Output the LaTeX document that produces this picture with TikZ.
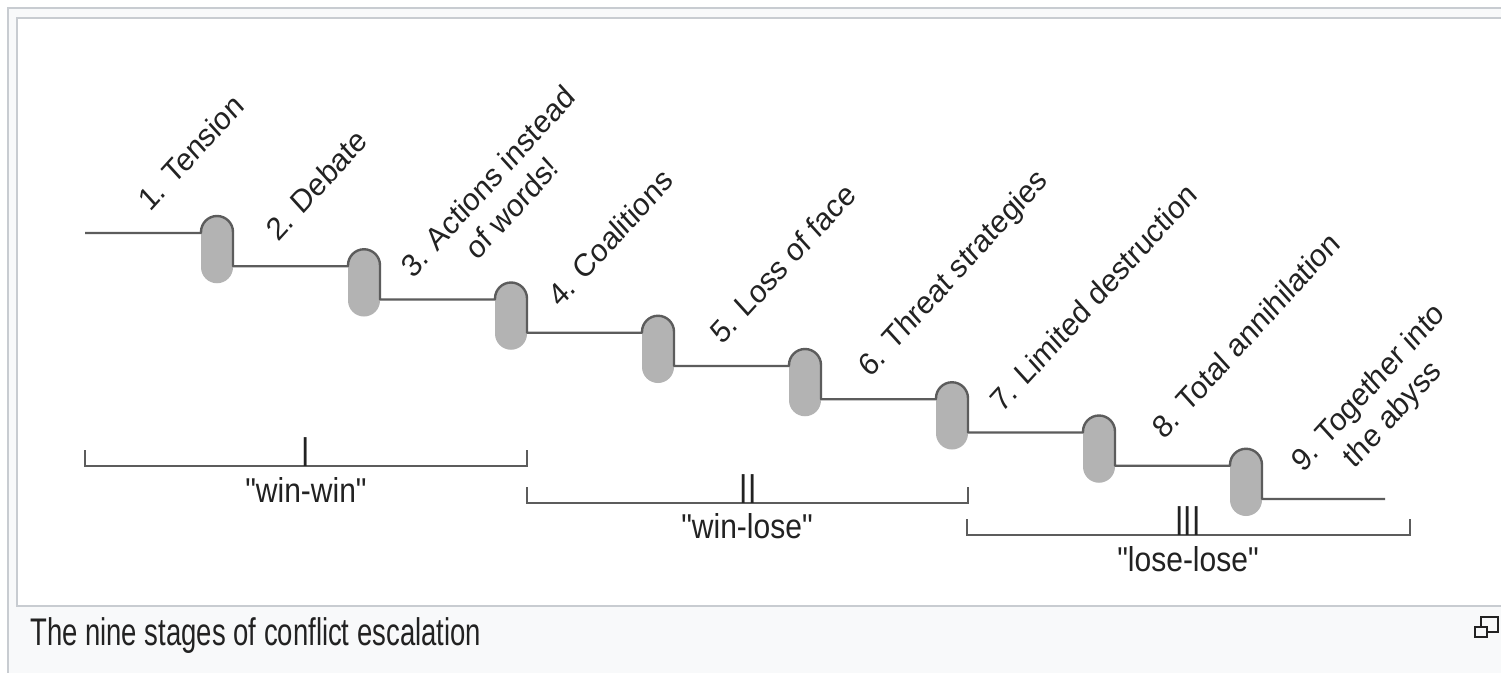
\documentclass[tikz,border=0pt]{standalone}
\usepackage{fontspec}
\setmainfont{Liberation Sans}
\usepackage{xcolor}
\usepackage{tikz}
\definecolor{stairgray}{HTML}{5C5C5C}
\definecolor{pillgray}{HTML}{B3B3B3}
\definecolor{framegray}{HTML}{C8CCD1}
\definecolor{framebg}{HTML}{F8F9FA}
\definecolor{inkgray}{HTML}{222222}

\begin{document}
\begin{tikzpicture}[x=1pt, y=-1pt,
 pill/.style={fill=pillgray, rounded corners=16pt, minimum width=32pt, minimum height=67.25pt, inner sep=0pt, outer sep=0pt},
 stair/.style={draw=stairgray, line width=2.4pt, line join=round},
 brace/.style={draw=stairgray, line width=2.2pt},
 stage/.style={anchor=base west, inner sep=0pt, align=center, text=inkgray, font=\fontsize{29}{34}\selectfont, yscale=1.1, rotate=45, transform shape},
 phase/.style={anchor=base, inner sep=0pt, text=inkgray, font=\fontsize{30}{36}\selectfont, yscale=1.15, transform shape},
 numeral/.style={anchor=base, inner sep=0pt, text=inkgray, font=\fontsize{30}{36}\selectfont, yscale=1.4, transform shape}]
\useasboundingbox (0,0) rectangle (1501,672);
\clip (0,0) rectangle (1501,672);
\fill[white] (0,0) rectangle (1501,672);
\filldraw[fill=framebg, draw=framegray, line width=2pt] (8,8) rectangle (1520,690);
\filldraw[fill=white, draw=framegray, line width=2pt] (17,18) rectangle (1520,606);

\foreach \k in {0,...,8} \coordinate (l\k) at (0,{233+33.25*\k});
\foreach \i in {1,...,8} \node[pill] (p\i) at ({217+147*(\i-1)},{249.625+33.25*(\i-1)}) {};
\coordinate (s) at (85,233);
\coordinate (e) at (1385,499);
\draw[stair] (s) \foreach \i [count=\j from 0] in {1,...,8} {
 -- (p\i.west |- l\j) -- ([yshift=-16pt]p\i.north west) arc[start angle=180, end angle=360, radius=16] -- (p\i.east |- l\i)} -- (e);

\node[stage] (s1) at (150,213) {1. Tension};
\node[stage] (s2) at (278,243) {2. Debate};
\node[stage] (s3) at (437,306) {3. Actions instead\\of words!};
\node[stage] (s4) at (560,309) {4. Coalitions};
\node[stage] (s5) at (722,346) {5. Loss of face};
\node[stage] (s6) at (870,379) {6. Threat strategies};
\node[stage] (s7) at (1002,414) {7. Limited destruction};
\node[stage] (s8) at (1164,441) {8. Total annihilation};
\node[stage] (s9) at (1327,500) {9. Together into\\the abyss};

\coordinate (w1) at (85,466);
\coordinate (w2) at (527,466);
\coordinate (m1) at (527,503);
\coordinate (m2) at (968,503);
\coordinate (d1) at (967,535);
\coordinate (d2) at (1410,535);
\draw[brace] ([yshift=16pt]w1) -- (w1) -- (w2) -- ([yshift=16pt]w2);
\draw[brace] ([yshift=16pt]m1) -- (m1) -- (m2) -- ([yshift=16pt]m2);
\draw[brace] ([yshift=16pt]d1) -- (d1) -- (d2) -- ([yshift=16pt]d2);
\node[numeral] (n1) at (306,466) {I};
\node[numeral] (n2) at (748,503) {II};
\node[numeral] (n3) at (1188,535) {III};
\node[phase] (h1) at (306,502) {\textquotedbl win-win\textquotedbl};
\node[phase] (h2) at (747,538) {\textquotedbl win-lose\textquotedbl};
\node[phase] (h3) at (1188,571) {\textquotedbl lose-lose\textquotedbl};

\node[anchor=base west, inner sep=0pt, text=inkgray, font=\fontsize{27.5}{30}\selectfont, yscale=1.4, transform shape] (caption) at (30,645) {The nine stages of conflict escalation};
\draw[inkgray, line width=1.6pt] (1481,617) rectangle (1498,632);
\filldraw[fill=framebg, draw=inkgray, line width=1.6pt] (1475,627) rectangle (1487,637);
\end{tikzpicture}
\end{document}
